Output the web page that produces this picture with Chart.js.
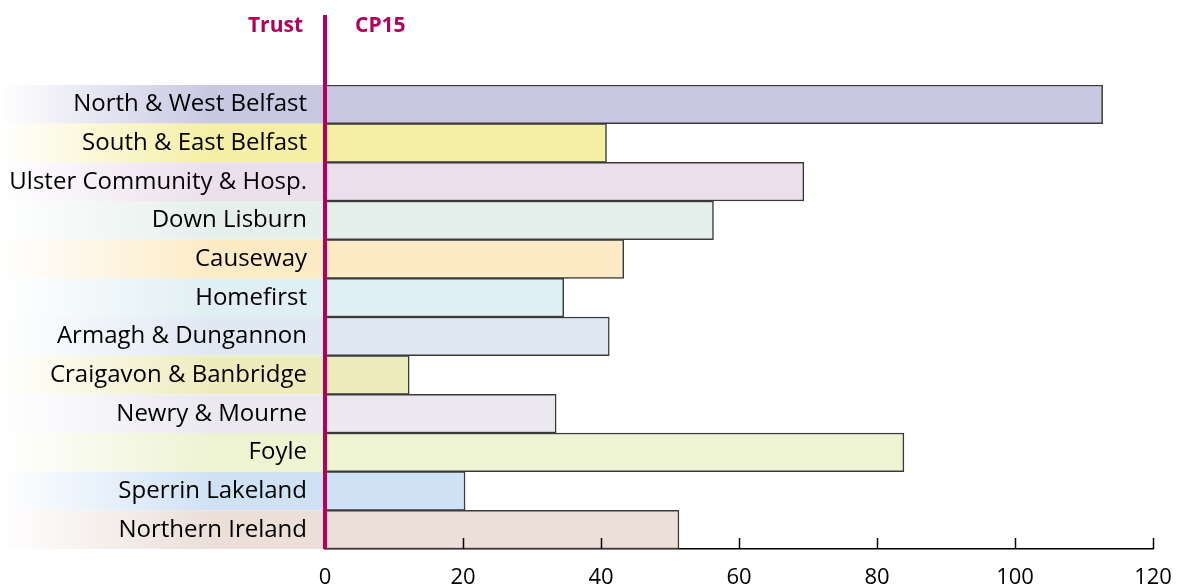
<!DOCTYPE html>
<html>
<head>
<meta charset="utf-8">
<script src="https://cdn.jsdelivr.net/npm/chart.js@4"></script>
<style>
  html, body { margin: 0; padding: 0; background: #fff; }
  #wrap { width: 1178px; height: 588px; }
</style>
</head>
<body>
<div id="wrap"><canvas id="myChart"></canvas></div>
<script>
const trusts = [
  "North & West Belfast",
  "South & East Belfast",
  "Ulster Community & Hosp.",
  "Down Lisburn",
  "Causeway",
  "Homefirst",
  "Armagh & Dungannon",
  "Craigavon & Banbridge",
  "Newry & Mourne",
  "Foyle",
  "Sperrin Lakeland",
  "Northern Ireland",
];
const cp15 = [112.7, 40.8, 69.4, 56.3, 43.3, 34.6, 41.2, 12.2, 33.5, 83.9, 20.3, 51.3];
const xTicks = [0, 20, 40, 60, 80, 100, 120];

const barColors = [
  "#c8c8e2", "#f5efa5", "#ebdfec", "#e5efec", "#fdebc6", "#e0eff3",
  "#dfe8f3", "#eeecbd", "#ebe8f0", "#eef3d2", "#cfe2f5", "#ebdfd8",
];

const CRIMSON = "#b3005b";
const FONT = "'Open Sans', 'Noto Sans', sans-serif";

// gradient strips behind the trust names
const labelBands = {
  id: "labelBands",
  beforeDraw(chart) {
    const { ctx, chartArea, scales } = chart;
    const y = scales.y;
    const half = Math.abs(y.getPixelForValue(1) - y.getPixelForValue(0)) / 2;
    ctx.save();
    trusts.forEach((t, i) => {
      const cy = y.getPixelForValue(i);
      const g = ctx.createLinearGradient(0, 0, chartArea.left, 0);
      g.addColorStop(0, "rgba(255,255,255,1)");
      g.addColorStop(0.65, barColors[i]);
      g.addColorStop(1, barColors[i]);
      ctx.fillStyle = g;
      ctx.fillRect(0, cy - half, chartArea.left, half * 2);
    });
    ctx.restore();
  },
};

// crimson zero line, headings and inward tick marks
const decorations = {
  id: "decorations",
  afterDraw(chart) {
    const { ctx, chartArea, scales } = chart;
    const x0 = scales.x.getPixelForValue(0);
    ctx.save();
    ctx.strokeStyle = "#000";
    ctx.lineWidth = 1.5;
    xTicks.forEach((v) => {
      const px = Math.round(scales.x.getPixelForValue(v)) + 0.5;
      ctx.beginPath();
      ctx.moveTo(px, chartArea.bottom);
      ctx.lineTo(px, chartArea.bottom - 11);
      ctx.stroke();
    });

    ctx.fillStyle = CRIMSON;
    ctx.fillRect(x0 - 2, 15, 4, chartArea.bottom - 15);

    ctx.font = "bold 21px " + FONT;
    ctx.textBaseline = "middle";
    ctx.textAlign = "right";
    ctx.fillText("Trust", x0 - 22, 26);
    ctx.textAlign = "left";
    ctx.fillText("CP15", x0 + 30, 26);
    ctx.restore();
  },
};

const config = {
  type: "bar",
  data: {
    labels: trusts,
    datasets: [
      {
        data: cp15,
        backgroundColor: barColors,
        borderColor: "#3a3a3a",
        borderWidth: 1.5,
        borderSkipped: false,
        categoryPercentage: 1,
        barPercentage: 1,
      },
    ],
  },
  options: {
    indexAxis: "y",
    responsive: true,
    maintainAspectRatio: false,
    animation: false,
    layout: {
      padding: { top: 85, right: 25, left: 0, bottom: 0 },
    },
    plugins: {
      legend: { display: false },
      tooltip: { enabled: false },
    },
    scales: {
      x: {
        min: 0,
        max: 120,
        afterBuildTicks(scale) {
          scale.ticks = xTicks.map((v) => ({ value: v }));
        },
        afterFit(scale) {
          scale.height = 39;
          scale.paddingLeft = 0;
          scale.paddingRight = 0;
        },
        grid: { display: false, drawTicks: false },
        border: { display: true, color: "#000", width: 1.5 },
        ticks: {
          color: "#000",
          padding: 16,
          font: { family: FONT, size: 22 },
          maxRotation: 0,
        },
      },
      y: {
        afterFit(scale) {
          scale.width = 325;
        },
        grid: { display: false, drawTicks: false },
        border: { display: false },
        ticks: {
          color: "#000",
          padding: 18,
          font: { family: FONT, size: 24 },
        },
      },
    },
  },
  plugins: [labelBands, decorations],
};

new Chart(document.getElementById("myChart"), config);
</script>
</body>
</html>
